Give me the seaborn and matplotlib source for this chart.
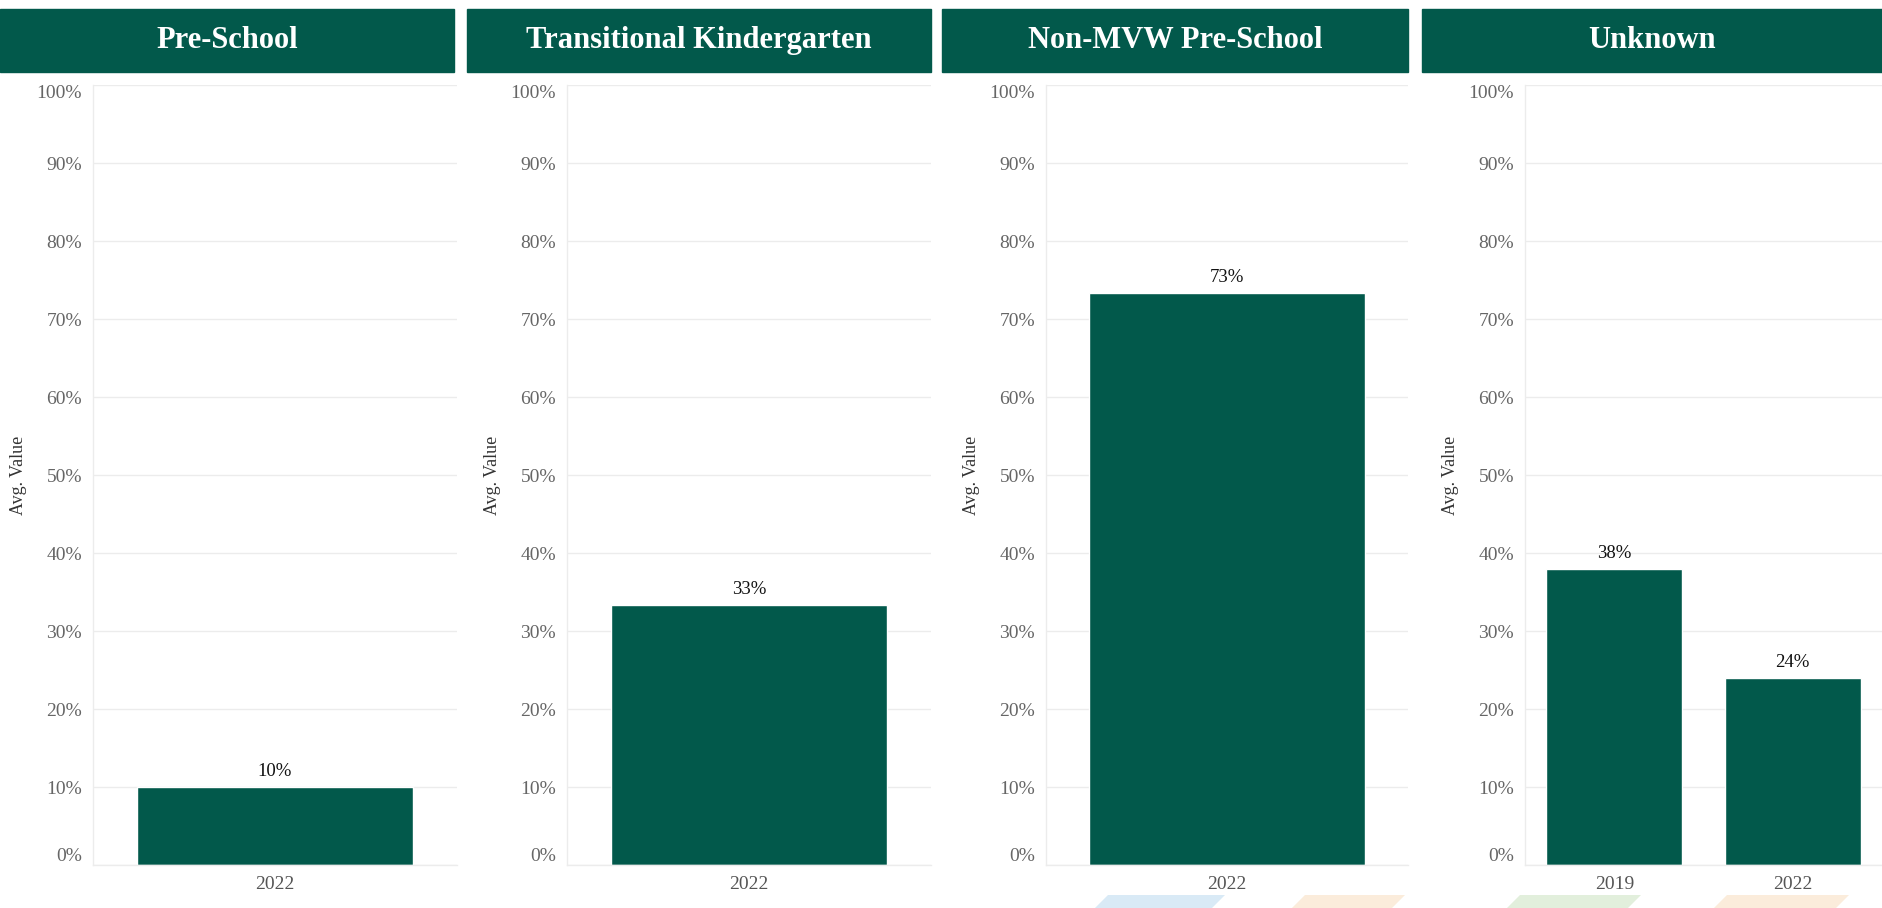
import matplotlib.pyplot as plt
import seaborn as sns
import pandas as pd
from matplotlib.patches import Rectangle, Polygon

groups = ["Pre-School", "Transitional Kindergarten", "Non-MVW Pre-School", "Unknown"]
years = [["2022"], ["2022"], ["2022"], ["2019", "2022"]]
values = [[10.0], [33.3], [73.3], [37.9, 24.0]]
y_ticks = [0, 10, 20, 30, 40, 50, 60, 70, 80, 90, 100]

sns.set_theme(style="white")
plt.rcParams['font.family'] = ['Liberation Serif', 'DejaVu Serif']

green = "#02594B"
W, H = 1882, 908
fig = plt.figure(figsize=(W / 100, H / 100), dpi=100)

# pixel layout of the four panels and their header bars
axes_px = [(93, 457), (567, 931), (1046, 1408), (1525, 1882)]
header_px = [(0, 454), (467, 931), (942, 1408), (1422, 1882)]
y_bottom, y_top = 865, 85

for i, group in enumerate(groups):
    x0, x1 = axes_px[i]
    ax = fig.add_axes([x0 / W, 1 - y_bottom / H, (x1 - x0) / W, (y_bottom - y_top) / H])
    df = pd.DataFrame({"Year": years[i], "Value": values[i]})
    sns.barplot(data=df, x="Year", y="Value", color=green, saturation=1,
                width=0.76, errorbar=None, ax=ax)
    ax.bar_label(ax.containers[0], labels=[f"{v:.0f}%" for v in values[i]],
                 padding=5, fontsize=13.5, color="#111111")

    ax.set_ylim(0, 100)
    ax.set_xlim(-0.5, len(years[i]) - 0.5)
    ax.set_yticks(y_ticks)
    ax.set_yticklabels([f"{t}%" for t in y_ticks])
    ax.yaxis.grid(True, color="#ececec", linewidth=1)
    ax.set_axisbelow(True)
    ax.tick_params(axis="y", length=0, pad=8, labelsize=14, labelcolor="#666666")
    ax.tick_params(axis="x", length=0, pad=8, labelsize=14, labelcolor="#555555")
    ax.set_xticks([k - 0.5 for k in range(len(years[i]) + 1)], minor=True)
    ax.tick_params(axis="x", which="minor", length=6, width=1, color="#e8e8e8")

    for lbl in ax.get_yticklabels():
        if lbl.get_text() == "100%":
            lbl.set_verticalalignment("top")
        elif lbl.get_text() == "0%":
            lbl.set_verticalalignment("bottom")

    for side in ["top", "right"]:
        ax.spines[side].set_visible(False)
    for side in ["left", "bottom"]:
        ax.spines[side].set_color("#ececec")
        ax.spines[side].set_linewidth(1)

    ax.set_xlabel("")
    ax.set_ylabel("Avg. Value", fontsize=13, color="#333333")
    ax.yaxis.set_label_coords(-66 / (x1 - x0), 0.5)

    hx0, hx1 = header_px[i]
    fig.add_artist(Rectangle((hx0 / W, 1 - 72 / H), (hx1 - hx0) / W, 63 / H,
                             transform=fig.transFigure, color=green))
    fig.text((hx0 + hx1) / 2 / W, 1 - 40.5 / H, group, ha="center", va="center",
             color="white", fontsize=22, fontweight="bold")

# faint logo stripes along the bottom edge
stripes = [(1093, 1225, "#d9eaf6"), (1290, 1405, "#fbecdb"),
           (1505, 1641, "#e2efdc"), (1712, 1849, "#fbecdb")]
for left, right, col in stripes:
    pts = [(left, 910), (left + 15, 895), (right, 895), (right - 15, 910)]
    fig.add_artist(Polygon([(px / W, 1 - py / H) for px, py in pts],
                           closed=True, transform=fig.transFigure, color=col, lw=0))

plt.savefig("out.png", dpi=100)
